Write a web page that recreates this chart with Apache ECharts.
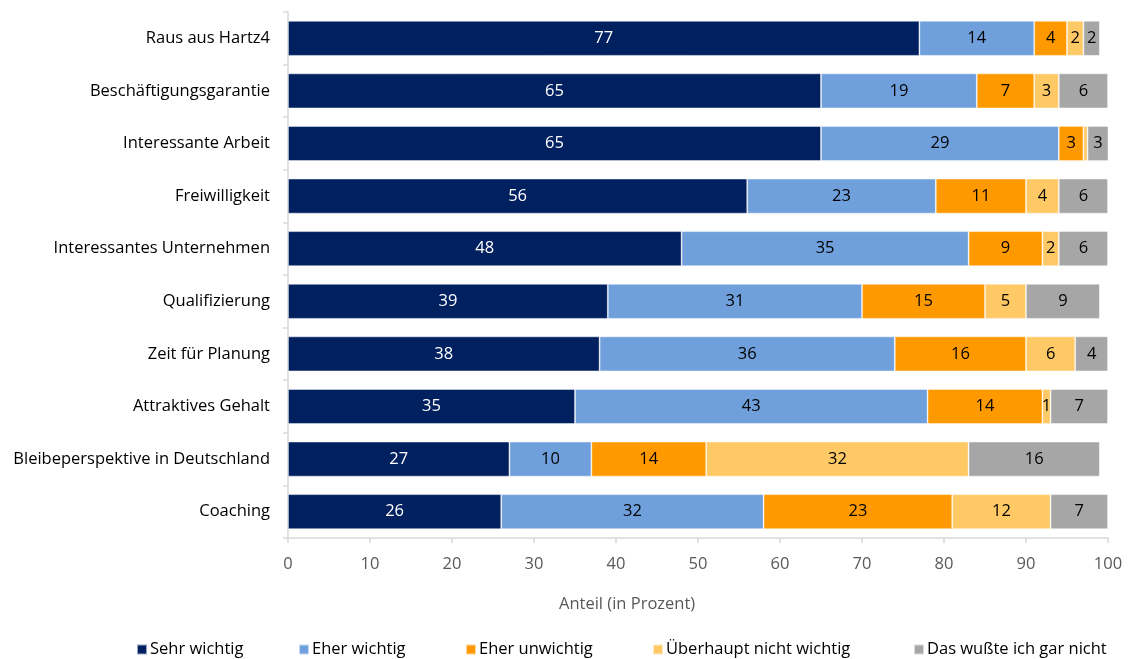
<!DOCTYPE html>
<html>
<head>
<meta charset="utf-8">
<title>Wichtigkeit der Aspekte</title>
<script src="https://cdn.jsdelivr.net/npm/echarts@6/dist/echarts.min.js"></script>
<style>
  html, body { margin: 0; padding: 0; background: #ffffff; }
  #chart { width: 1131px; height: 659px; }
</style>
</head>
<body>
<div id="chart"></div>
<script>
// Aspects, top to bottom
const categories = [
  'Raus aus Hartz4',
  'Beschäftigungsgarantie',
  'Interessante Arbeit',
  'Freiwilligkeit',
  'Interessantes Unternehmen',
  'Qualifizierung',
  'Zeit für Planung',
  'Attraktives Gehalt',
  'Bleibeperspektive in Deutschland',
  'Coaching'
];

const seriesNames = [
  'Sehr wichtig',
  'Eher wichtig',
  'Eher unwichtig',
  'Überhaupt nicht wichtig',
  'Das wußte ich gar nicht'
];

// Shares in percent per answer
const sehrWichtig        = [77, 65, 65, 56, 48, 39, 38, 35, 27, 26];
const eherWichtig        = [14, 19, 29, 23, 35, 31, 36, 43, 10, 32];
const eherUnwichtig      = [4, 7, 3, 11, 9, 15, 16, 14, 14, 23];
const ueberhauptNicht    = [2, 3, 0.5, 4, 2, 5, 6, 1, 32, 12];
const weissNicht         = [2, 6, 3, 6, 6, 9, 4, 7, 16, 7];

const xTicks = { min: 0, max: 100, interval: 10 };

const seriesData = [sehrWichtig, eherWichtig, eherUnwichtig, ueberhauptNicht, weissNicht];
const colors = ['#002060', '#6FA0DC', '#FF9900', '#FFC966', '#A6A6A6'];
const labelColors = ['#ffffff', '#000000', '#000000', '#000000', '#000000'];
const legendLeft = [136, 298, 465, 652, 913];

const FONT = '"Open Sans", "Noto Sans", sans-serif';
const FS = 16.5;

const chart = echarts.init(document.getElementById('chart'), null, { renderer: 'canvas' });

const option = {
  animation: false,
  backgroundColor: '#ffffff',
  textStyle: { fontFamily: FONT },
  grid: { left: 288, right: 23, top: 12, bottom: 121, containLabel: false },
  xAxis: {
    type: 'value',
    min: xTicks.min,
    max: xTicks.max,
    interval: xTicks.interval,
    axisLine: { show: true, lineStyle: { color: '#D9D9D9', width: 1.5 } },
    axisTick: { show: true, length: 5, lineStyle: { color: '#D9D9D9', width: 1.5 } },
    splitLine: { show: false },
    axisLabel: { color: '#595959', fontSize: FS, margin: 18, fontFamily: FONT }
  },
  yAxis: {
    type: 'category',
    data: categories,
    inverse: true,
    axisLine: { show: true, lineStyle: { color: '#D9D9D9', width: 1.5 } },
    axisTick: { show: true, length: 5, lineStyle: { color: '#D9D9D9', width: 1.5 } },
    axisLabel: { color: '#000000', fontSize: FS, margin: 18, fontFamily: FONT }
  },
  legend: seriesNames.map((name, i) => ({
    data: [name],
    left: legendLeft[i],
    top: 641,
    padding: 0,
    itemWidth: 10,
    itemHeight: 10,
    itemGap: 0,
    selectedMode: false,
    icon: 'rect',
    textStyle: { color: '#000000', fontSize: FS, fontFamily: FONT, padding: [0, 0, 0, -2] }
  })),
  graphic: [{
    type: 'text',
    left: 559,
    top: 596,
    style: { text: 'Anteil (in Prozent)', fill: '#595959', fontSize: FS, fontFamily: FONT }
  }],
  series: seriesNames.map((name, i) => ({
    name: name,
    type: 'bar',
    stack: 'total',
    barWidth: 35,
    data: seriesData[i],
    itemStyle: { color: colors[i], borderColor: 'rgba(255,255,255,0.6)', borderWidth: 0.8 },
    label: {
      show: true,
      position: 'inside',
      color: labelColors[i],
      fontSize: FS,
      fontFamily: FONT,
      formatter: p => (p.value >= 1 ? String(Math.round(p.value)) : '')
    }
  }))
};

chart.setOption(option);
</script>
</body>
</html>
